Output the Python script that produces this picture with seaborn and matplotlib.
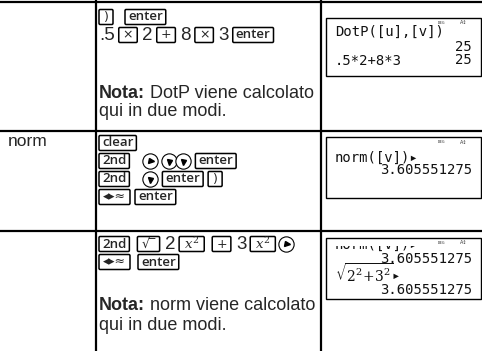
import matplotlib
matplotlib.use("Agg")
import matplotlib.pyplot as plt
import seaborn as sns
from matplotlib import font_manager
from matplotlib.patches import Rectangle, FancyBboxPatch

sns.set_style("white")

installed = {f.name for f in font_manager.fontManager.ttflist}
BODY = "Liberation Sans Narrow" if "Liberation Sans Narrow" in installed else "Liberation Sans"
KEYF = "Open Sans"
MONO = "DejaVu Sans Mono"
plt.rcParams["font.family"] = [BODY, "DejaVu Sans"]
plt.rcParams["mathtext.fontset"] = "dejavuserif"

W, H = 482, 351

# table content
row_labels = ["", "norm", ""]

# key sequences: ("k", cap) key cap, ("t", txt) plain, ("r",) right arrow, ("d",) down arrow, ("s", gap)
keys_row1 = [
    [("k", ")"), ("s", 7), ("k", "enter")],
    [("t", ".5"), ("k", "×"), ("t", "2"), ("k", "+"), ("t", "8"), ("k", "×"), ("t", "3"), ("k", "enter")],
]
keys_row2 = [
    [("k", "clear")],
    [("k", "2nd"), ("s", 10), ("r",), ("s", 5), ("d",), ("d",), ("s", 4), ("k", "enter")],
    [("k", "2nd"), ("s", 10), ("d",), ("s", 4), ("k", "enter"), ("k", ")")],
    [("k", "◂▸≈"), ("k", "enter")],
]
keys_row3 = [
    [("k", "2nd"), ("s", 3), ("k", "√‾"), ("t", "2"), ("k", "$x^2$"), ("s", 3), ("k", "+"),
     ("t", "3"), ("k", "$x^2$"), ("r",)],
    [("k", "◂▸≈"), ("s", 3), ("k", "enter")],
]
keys_rows = [keys_row1, keys_row2, keys_row3]
notes = [("Nota:", " DotP viene calcolato", "qui in due modi."), None,
         ("Nota:", " norm viene calcolato", "qui in due modi.")]

screen1 = [("DotP([u],[v])", "l"), ("25", "r"), ("25", "r"), (".5*2+8*3", "l")]
screen2 = [("norm([v])▸", "l"), ("3.605551275", "r")]
screen3 = [("norm([v])▸", "l"), ("3.605551275", "r"), (r"$\sqrt{2^2\!+\!3^2}$▸", "l"), ("3.605551275", "r")]

# layout (pixels)
col_x = [96, 321]
row_y = [2, 131, 231]
line_y = [[17, 35], [143, 161, 179, 197], [244, 262]]
note_y = [93, None, 306]
scr_box = [(326, 18, 481, 76), (326, 137, 481, 198), (326, 238, 481, 299)]
scr_line_y = [[32, 47, 60, 61], [158, 170], [245, 259, 273, 290]]

fig = plt.figure(figsize=(W / 100, H / 100), dpi=100)
ax = fig.add_axes([0, 0, 1, 1])
ax.set_xlim(0, W)
ax.set_ylim(H, 0)
ax.axis("off")
r = fig.canvas.get_renderer()


def width(t):
    return t.get_window_extent(renderer=r).width


# grid lines
for y in row_y:
    ax.plot([0, W], [y, y], color="black", lw=1.6, solid_capstyle="butt")
for x in col_x:
    ax.plot([x, x], [0, H], color="black", lw=1.6, solid_capstyle="butt")

for i, lab in enumerate(row_labels):
    if lab:
        ax.text(8, line_y[i][0] - 2, lab, fontsize=12.5, va="center", ha="left")


def draw_line(tokens, x, y):
    for tok in tokens:
        kind = tok[0]
        if kind == "s":
            x += tok[1]
            continue
        if kind == "t":
            t = ax.text(x, y + 0.5, tok[1], fontsize=13.5, va="center", ha="left")
            x += width(t) + 4
        elif kind == "k":
            cap = tok[1]
            if cap.startswith("$"):
                t = ax.text(0, y + 0.5, cap, fontsize=9.5, va="center", ha="center")
                pad = 10
            elif cap in ("×", "+", ")", "√‾", "◂▸≈"):
                t = ax.text(0, y, cap, fontsize=9, va="center", ha="center", family="DejaVu Sans")
                pad = 8
            else:
                t = ax.text(0, y, cap, fontsize=9.5, va="center", ha="center",
                            family=[KEYF, "DejaVu Sans"], weight="semibold")
                pad = 6
            w = max(width(t) + pad, 14)
            t.set_position((x + w / 2, t.get_position()[1]))
            ax.add_patch(FancyBboxPatch((x, y - 7.5), w, 15, boxstyle="round,pad=0,rounding_size=1.2",
                                        fill=False, ec="black", lw=1.1))
            x += w + 5
        else:
            cx = x + 6
            ax.plot([cx], [y], marker="o", ms=11, mfc="white", mec="black", mew=0.8)
            ax.plot([cx + (0.5 if kind == "r" else 0)], [y + (0.5 if kind == "d" else 0)],
                    marker=">" if kind == "r" else "v", ms=3.6, color="black")
            x += 14
    return x


for i, rows in enumerate(keys_rows):
    for tokens, y in zip(rows, line_y[i]):
        draw_line(tokens, 99, y)
    if notes[i]:
        bold, rest, second = notes[i]
        t = ax.text(99, note_y[i], bold, fontsize=13, weight="bold", va="center")
        ax.text(99 + width(t), note_y[i], rest, fontsize=13, va="center")
        ax.text(99, note_y[i] + 19, second, fontsize=13, va="center")

# calculator screens
for k, ((x0, y0, x1, y1), lines, ys) in enumerate(zip(scr_box, [screen1, screen2, screen3], scr_line_y)):
    box = Rectangle((x0, y0), x1 - x0, y1 - y0, fill=False, ec="black", lw=1.0)
    ax.add_patch(box)
    ax.text(x1 - 36, y0 + 5, "DEG", fontsize=3, color="#333", family=MONO, va="center", ha="right")
    ax.text(x1 - 14, y0 + 5, "A↕", fontsize=3.5, color="#333", family="DejaVu Sans", va="center", ha="right")
    top = y0 + (8 if k == 2 else 0)
    clip = Rectangle((x0, top), x1 - x0, y1 - top, transform=ax.transData)
    for (txt, al), y in zip(lines, ys):
        if al == "l":
            t = ax.text(x0 + 9, y, txt, fontsize=10, family=MONO, color="#111", va="center", ha="left")
        else:
            t = ax.text(x1 - 9, y, txt, fontsize=10, family=MONO, color="#111", va="center", ha="right")
        t.set_clip_path(clip)
        t.set_clip_on(True)

fig.savefig("out.png", dpi=100)
